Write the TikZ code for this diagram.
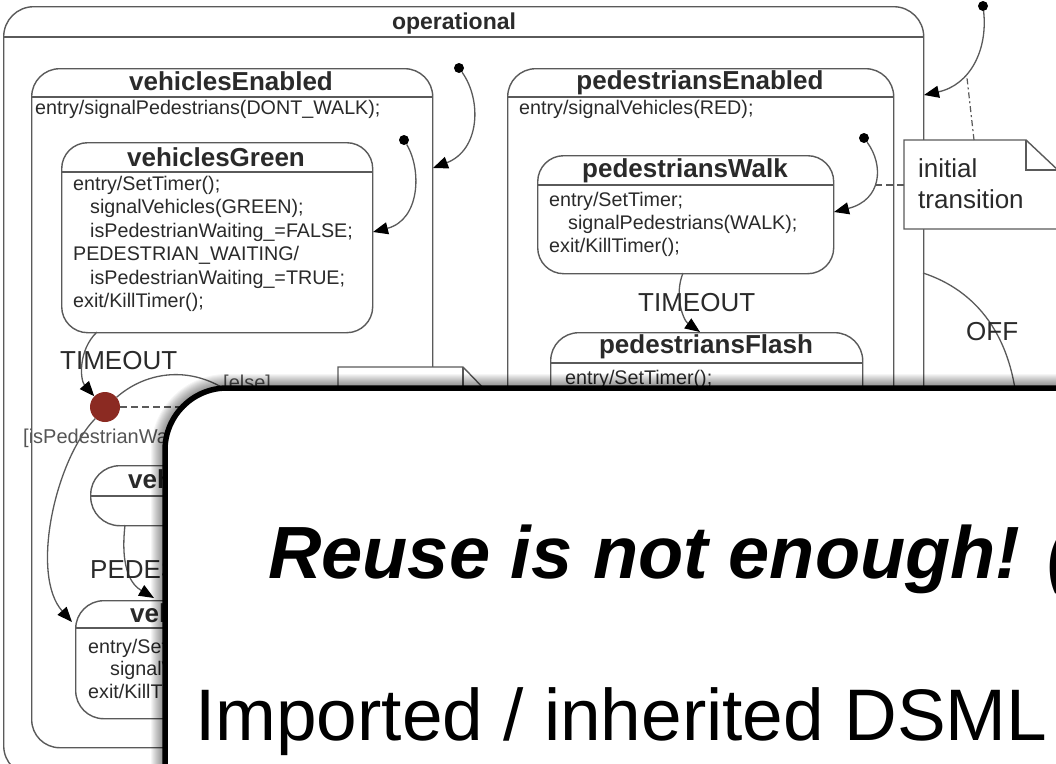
\documentclass[tikz,border=0pt]{standalone}
\usepackage{fontspec}
\setmainfont{Liberation Sans}
\usetikzlibrary{arrows.meta,calc}
\definecolor{ln}{HTML}{5A5A5A}
\definecolor{tx}{HTML}{2A2A2A}
\definecolor{gtx}{HTML}{555555}
\definecolor{jred}{HTML}{8B2A22}
\begin{document}
\begin{tikzpicture}[x=1pt,y=-1pt,
  stbox/.style={draw=ln,line width=1.4pt,fill=white,rectangle,inner sep=0pt,anchor=north west},
  sep/.style={draw=ln,line width=1.4pt},
  ttl/.style={font=\fontsize{26}{28}\selectfont\bfseries,text=tx,anchor=base,inner sep=0pt},
  body/.style={font=\fontsize{19.7}{22}\selectfont,text=tx,anchor=base west,inner sep=0pt},
  lbl/.style={font=\fontsize{26}{28}\selectfont,text=tx,anchor=base west,inner sep=0pt},
  glbl/.style={font=\fontsize{20}{22}\selectfont,text=gtx,anchor=base west,inner sep=0pt},
  arr/.style={draw=ln,line width=1.3pt,-{Triangle[length=15pt,width=12pt,color=black]}},
  dotst/.style={circle,fill=black,inner sep=0pt,minimum size=10pt},
  notest/.style={draw=ln,line width=1.4pt,fill=white},
  dsh/.style={draw=ln,line width=1.2pt,dash pattern=on 7pt off 4pt},
  glow/.style={draw=black,opacity=0.04,rounded corners=62pt}
]
\useasboundingbox (0,0) rectangle (1056,763);
\fill[white] (0,0) rectangle (1056,763);

% ---------- states ----------
\node[stbox,rounded corners=30pt,minimum width=920pt,minimum height=769pt] (op) at (3,6) {};
\draw[sep] ($(op.north west)+(0,31)$) -- ($(op.north east)+(0,31)$);
\node[ttl,font=\fontsize{23}{25}\selectfont\bfseries] (opT) at (454,29) {operational};

\node[stbox,rounded corners=28pt,minimum width=401pt,minimum height=679pt] (vE) at (31,68) {};
\draw[sep] ($(vE.north west)+(0,29)$) -- ($(vE.north east)+(0,29)$);
\node[ttl] (vET) at (231,90) {vehiclesEnabled};
\node[body] (vEe) at (35,114) {entry/signalPedestrians(DONT\_WALK);};

\node[stbox,rounded corners=28pt,minimum width=386pt,minimum height=760pt] (pE) at (507,68) {};
\draw[sep] ($(pE.north west)+(0,29)$) -- ($(pE.north east)+(0,29)$);
\node[ttl] (pET) at (700,89) {pedestriansEnabled};
\node[body] (pEe) at (519,114) {entry/signalVehicles(RED);};

\node[stbox,rounded corners=26pt,minimum width=311pt,minimum height=190pt] (vG) at (61,142) {};
\draw[sep] ($(vG.north west)+(0,30)$) -- ($(vG.north east)+(0,30)$);
\node[ttl] (vGT) at (216,166) {vehiclesGreen};
\node[body] (vG1) at (73,190) {entry/SetTimer();};
\node[body] (vG2) at (90,213.5) {signalVehicles(GREEN);};
\node[body] (vG3) at (90,237) {isPedestrianWaiting\_=FALSE;};
\node[body] (vG4) at (73,260.5) {PEDESTRIAN\_WAITING/};
\node[body] (vG5) at (90,284) {isPedestrianWaiting\_=TRUE;};
\node[body] (vG6) at (73,307.5) {exit/KillTimer();};

\node[stbox,rounded corners=26pt,minimum width=296pt,minimum height=118pt] (pW) at (537,155) {};
\draw[sep] ($(pW.north west)+(0,30)$) -- ($(pW.north east)+(0,30)$);
\node[ttl] (pWT) at (685,177) {pedestriansWalk};
\node[body] (pW1) at (549,206) {entry/SetTimer;};
\node[body] (pW2) at (568,229) {signalPedestrians(WALK);};
\node[body] (pW3) at (549,252) {exit/KillTimer();};

\node[stbox,rounded corners=28pt,minimum width=312pt,minimum height=170pt] (pF) at (550,332) {};
\draw[sep] ($(pF.north west)+(0,31)$) -- ($(pF.north east)+(0,31)$);
\node[ttl] (pFT) at (706,353) {pedestriansFlash};
\node[body] (pF1) at (565,384) {entry/SetTimer();};

\node[stbox,rounded corners=29pt,minimum width=250pt,minimum height=60pt] (vGI) at (90,465) {};
\draw[sep] ($(vGI.north west)+(0,31)$) -- ($(vGI.north east)+(0,31)$);
\node[ttl,anchor=base west] (vGIT) at (128,488) {veh};

\node[stbox,rounded corners=28pt,minimum width=260pt,minimum height=118pt] (vY) at (75,600) {};
\draw[sep] ($(vY.north west)+(0,28)$) -- ($(vY.north east)+(0,28)$);
\node[ttl,anchor=base west] (vYT) at (130,622) {veh};
\node[body] (vY1) at (88,653) {entry/Set};
\node[body] (vY2) at (110,675) {signalV};
\node[body] (vY3) at (88,698) {exit/KillTi};

% ---------- pseudo states ----------
\node[dotst] (i0) at (983,6) {};
\node[dotst] (i1) at (459,68) {};
\node[dotst] (i2) at (404,140) {};
\node[dotst] (i3) at (864,138) {};
\node[circle,fill=jred,inner sep=0pt,minimum size=30pt] (jn) at (105,407) {};

\coordinate (t0) at (924,95);
\coordinate (t1) at (433,168);
\coordinate (t2) at (373,232);
\coordinate (t3) at (834,212);
\coordinate (c0) at (967,78);
\coordinate (c3) at (874,185);

% ---------- transitions ----------
\draw[arr] (i0) .. controls (988,50) and (970,85) .. (t0);
\draw[arr] (i1) .. controls (482,100) and (480,150) .. (t1);
\draw[arr] (i2) .. controls (422,170) and (420,220) .. (t2);
\draw[arr] (i3) .. controls (884,165) and (882,200) .. (t3);

\coordinate (pWb) at (683,273);
\draw[arr] (pWb) .. controls (674,295) and (683,320) .. (pF.north -| 700,0);
\node[lbl] (to1) at (638,311) {TIMEOUT};

\coordinate (vGb) at (97,332);
\draw[arr] (vGb) .. controls (78,350) and (80,380) .. (jn.135);
\node[lbl] (to2) at (60,369) {TIMEOUT};

\coordinate (elseEnd) at (250,410);
\draw[draw=ln,line width=1.3pt] (jn.40) .. controls (150,368) and (205,362) .. (elseEnd);
\node[glbl] (elseL) at (223,389) {[else]};

\coordinate (vYc) at (72,622);
\draw[arr] (jn.230) .. controls (55,460) and (30,575) .. (vYc);
\node[glbl] (ipw) at (23,443) {[isPedestrianWai};

\coordinate (vGIb) at (125,525);
\coordinate (vYt) at (154,598);
\draw[arr] (vGIb) .. controls (120,570) and (132,585) .. (vYt);
\node[lbl] (pwl) at (90,578) {PEDES};

\coordinate (opR) at (923,273);
\coordinate (offEnd) at (1018,420);
\draw[draw=ln,line width=1.3pt] (opR) .. controls (975,290) and (1015,335) .. (offEnd);
\node[lbl] (offL) at (966,340) {OFF};

% ---------- notes ----------
\draw[notest] (904,140) -- (1026,140) -- (1060,172) -- (1060,229) -- (904,229) -- cycle;
\draw[notest,fill=none] (1026,140) -- (1026,170) -- (1060,170);
\node[lbl] (nt1) at (918,177) {initial};
\node[lbl] (nt2) at (918,208) {transition};
\coordinate (ntL) at (904,185);
\coordinate (ntT) at (974,140);
\draw[dsh] (ntL) -- (c3);
\draw[draw=ln,line width=1.2pt,dash pattern=on 6pt off 3pt on 2pt off 3pt] (ntT) -- (c0);

\draw[notest] (338,367) -- (463,367) -- (490,395) -- (490,450) -- (338,450) -- cycle;
\draw[notest,fill=none] (463,367) -- (463,393) -- (490,393);
\node[lbl] (jnt) at (353,405) {junction};
\coordinate (jnL) at (338,407);
\draw[dsh] (jn.east) -- (jnL);

% ---------- overlay slide box ----------
\foreach \w in {6,8,10,12,14,16,18,20,22,24,26,28} {
  \draw[glow,line width=\w pt] (165,388) rectangle (1160,860);
}
\draw[draw=black,fill=white,line width=5.5pt,rounded corners=62pt] (165,388) rectangle (1160,860);
\node[font=\fontsize{74}{80}\selectfont\bfseries\itshape,anchor=base west,inner sep=0pt] (h1) at (268,578) {Reuse is not enough! (};
\node[font=\fontsize{73}{80}\selectfont,anchor=base west,inner sep=0pt] (h2) at (195,740) {Imported / inherited DSML};
\end{tikzpicture}
\end{document}
